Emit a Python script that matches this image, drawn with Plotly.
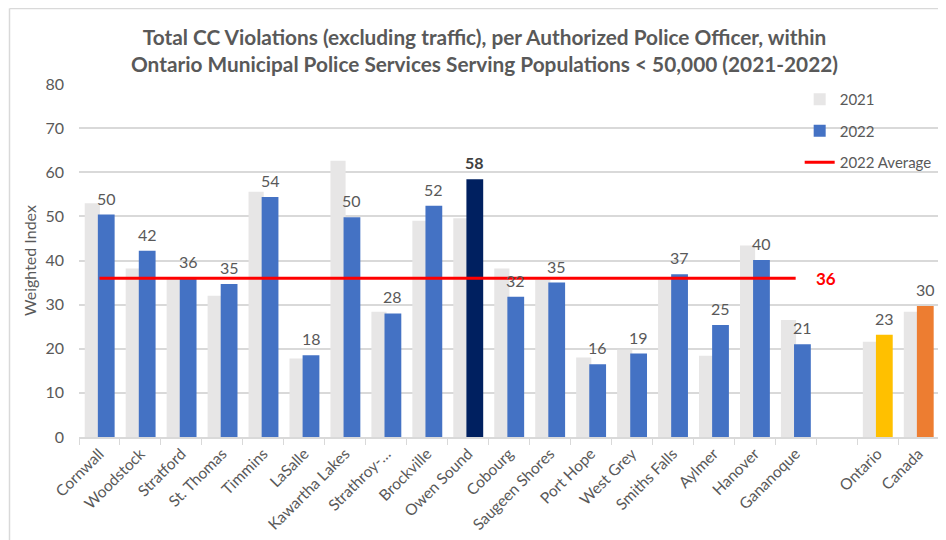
import plotly.graph_objects as go

SERVICES = [
    "Cornwall", "Woodstock", "Stratford", "St. Thomas", "Timmins", "LaSalle",
    "Kawartha Lakes", "Strathroy-…", "Brockville", "Owen Sound", "Cobourg",
    "Saugeen Shores", "Port Hope", "West Grey", "Smiths Falls", "Aylmer",
    "Hanover", "Gananoque", " ", "Ontario", "Canada",
]
VALUES_2021 = [
    53.0, 38.2, 36.0, 32.0, 55.6, 17.8, 62.6, 28.4, 49.0, 49.6, 38.2,
    35.7, 18.0, 19.8, 35.7, 18.4, 43.4, 26.5, None, 21.6, 28.4,
]
VALUES_2022 = [
    50.4, 42.2, 36.0, 34.7, 54.4, 18.5, 49.8, 28.0, 52.4, 58.4, 31.8,
    35.0, 16.5, 18.9, 36.9, 25.4, 40.1, 21.0, None, 23.2, 29.7,
]
LABELS_2022 = [
    "50", "42", "36", "35", "54", "18", "50", "28", "52", "<b>58</b>", "32",
    "35", "16", "19", "37", "25", "40", "21", "", "23", "30",
]
AVERAGE_2022 = 36
AVERAGE_SPAN = ["Cornwall", "Gananoque"]

GREY = "#595959"
BLUE = "#4472C4"
HIGHLIGHT = {"Owen Sound": "#002060", "Ontario": "#FFC000", "Canada": "#ED7D31"}
colors_2022 = [HIGHLIGHT.get(name, BLUE) for name in SERVICES]
FONT = "Lato, 'Open Sans', sans-serif"

# the page puts an 8px body margin round the figure, so size it to fit
W, H = 938, 532
L, R, T, B = 71, 7, 76, 103

OFF_21, WID_21 = -0.36, 0.37
OFF_22, WID_22 = -0.04, 0.41

fig = go.Figure()
fig.add_trace(
    go.Bar(
        x=SERVICES, y=VALUES_2021, name="2021",
        marker=dict(color="#E7E6E6", line=dict(width=0)),
        width=WID_21, offset=OFF_21, legendgroup="a",
    )
)
fig.add_trace(
    go.Bar(
        x=SERVICES, y=VALUES_2022, name="2022",
        marker=dict(color=colors_2022, line=dict(width=0)),
        width=WID_22, offset=OFF_22, legendgroup="b",
    )
)
fig.add_trace(
    go.Scatter(
        x=AVERAGE_SPAN, y=[AVERAGE_2022, AVERAGE_2022], name="2022 Average",
        mode="lines", line=dict(color="#FF0000", width=3), legendgroup="c",
    )
)

# value labels above the 2022 bars
for i, (val, lab) in enumerate(zip(VALUES_2022, LABELS_2022)):
    if val is None:
        continue
    fig.add_annotation(
        x=i + OFF_22 + WID_22 / 2, y=val, text=lab, showarrow=False,
        yanchor="bottom", yshift=5,
        font=dict(color="#404040" if "<b>" in lab else GREY, size=16, family=FONT),
    )

fig.add_annotation(
    x=17.45, y=AVERAGE_2022, text=f"<b>{AVERAGE_2022}</b>", showarrow=False,
    xanchor="left", font=dict(color="#FF0000", size=17, family=FONT),
)

# chart frame (only left and top edges are in view)
pw, ph = W - L - R, H - T - B
fx, fy = -(L - 1.5) / pw, 1 + (T - 0.5) / ph
for x0, y0, x1, y1 in [(fx, fy, fx, -(B + 10) / ph), (fx, fy, 1 + (R + 20) / pw, fy)]:
    fig.add_shape(
        type="line", xref="paper", yref="paper", x0=x0, y0=y0, x1=x1, y1=y1,
        line=dict(color="#D9D9D9", width=1.5), layer="below",
    )

fig.update_layout(
    width=W, height=H,
    margin=dict(l=L, r=R, t=T, b=B),
    paper_bgcolor="white", plot_bgcolor="white",
    barmode="overlay",
    font=dict(family=FONT, color=GREY, size=15),
    title=dict(
        text="<b>Total CC Violations (excluding traffic), per Authorized Police Officer, within"
             "<br>Ontario Municipal Police Services Serving Populations < 50,000 (2021-2022)</b>",
        x=0.508, xanchor="center", y=0.93, yanchor="top",
        font=dict(size=20.8, color=GREY, family=FONT),
    ),
    legend=dict(
        x=0.838, y=1.003, xanchor="left", yanchor="top",
        bgcolor="rgba(255,255,255,0)", tracegroupgap=9,
        font=dict(size=15, color=GREY),
    ),
    showlegend=True,
)
fig.update_xaxes(
    type="category", tickangle=-45, tickson="boundaries",
    ticks="outside", ticklen=6, tickcolor="#D9D9D9",
    showline=True, linecolor="#D9D9D9", linewidth=1.5,
    tickfont=dict(size=15.5, color=GREY), showgrid=False,
)
fig.update_yaxes(
    range=[0, 80], dtick=10, gridcolor="#D9D9D9", gridwidth=1.5,
    zeroline=False, tickfont=dict(size=16, color=GREY), ticklabelstandoff=14,
    title=dict(text="Weighted Index", font=dict(size=16, color=GREY), standoff=4),
)

fig.write_html("out.html")
